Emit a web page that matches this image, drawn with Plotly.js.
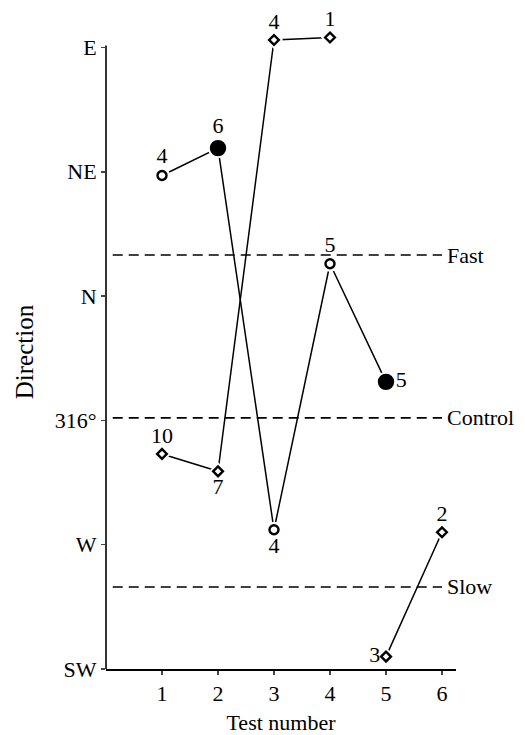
<!DOCTYPE html>
<html>
<head>
<meta charset="utf-8">
<script src="https://cdn.plot.ly/plotly-3.0.1.min.js"></script>
<style>html,body{margin:0;padding:0;background:#fff;}#chart{width:525px;height:735px;}</style>
</head>
<body>
<div id="chart"></div>
<script>
// Y axis: direction categories (index positions 0..5)
var directionTicks = [0, 1, 2, 3, 4, 5];
var directionLabels = ['SW', 'W', '316°', 'N', 'NE', 'E'];
var testTicks = [1, 2, 3, 4, 5, 6];

// Circle series
var circleX = [1, 2, 3, 4, 5];
var circleY = [3.97, 4.19, 1.12, 3.26, 2.31];
var circleLabels = ['4', '6', '4', '5', '5'];
var circleFilled = [false, true, false, false, true];
var circleLabelPos = ['top center', 'top center', 'bottom center', 'top center', 'middle right'];

// Diamond series (two separate runs)
var diamondAX = [1, 2, 3, 4];
var diamondAY = [1.73, 1.59, 5.06, 5.08];
var diamondALabels = ['10', '7', '4', '1'];
var diamondALabelPos = ['top center', 'bottom center', 'top center', 'top center'];
var diamondBX = [5, 6];
var diamondBY = [0.10, 1.10];
var diamondBLabels = ['3', '2'];
var diamondBLabelPos = ['middle left', 'top center'];

// Reference levels
var levelNames = ['Fast', 'Control', 'Slow'];
var levelValues = [3.33, 2.02, 0.66];
var levelStart = 0.12;
var levelEnd = 6.0;

var FONT = 'Liberation Serif, Times New Roman, serif';
var Y_AXIS_TOP = 5.015;   // visible end of the drawn y axis line
var traces = [];

function lineTrace(x, y) {
  return {x: x, y: y, mode: 'lines', type: 'scatter', hoverinfo: 'skip', cliponaxis: false,
    line: {color: '#000', width: 1.5}, showlegend: false};
}
traces.push(lineTrace(circleX, circleY));
traces.push(lineTrace(diamondAX, diamondAY));
traces.push(lineTrace(diamondBX, diamondBY));

// white halos to create gap between lines and markers
function haloTrace(x, y, sizes, symbol) {
  return {x: x, y: y, mode: 'markers', type: 'scatter', hoverinfo: 'skip', showlegend: false,
    cliponaxis: false,
    marker: {symbol: symbol, size: sizes, opacity: 1, color: '#fff', line: {width: 0}}};
}
traces.push(haloTrace(circleX, circleY, circleFilled.map(function(f){return f ? 20 : 16;}), 'circle'));
traces.push(haloTrace(diamondAX, diamondAY, 14, 'diamond'));
traces.push(haloTrace(diamondBX, diamondBY, 14, 'diamond'));

// reference dashed lines
levelValues.forEach(function(v) {
  traces.push({x: [levelStart, levelEnd], y: [v, v], mode: 'lines', type: 'scatter',
    hoverinfo: 'skip', showlegend: false, cliponaxis: false,
    line: {color: '#000', width: 1.6, dash: '10px,6px'}});
});

// markers with labels
traces.push({x: circleX, y: circleY, mode: 'markers+text', type: 'scatter', showlegend: false,
  text: circleLabels, textposition: circleLabelPos, cliponaxis: false,
  textfont: {family: FONT, size: 22, color: '#000'},
  marker: {symbol: 'circle', opacity: 1, size: circleFilled.map(function(f){return f ? 14 : 9;}),
    color: circleFilled.map(function(f){return f ? '#000' : '#fff';}),
    line: {color: '#000', width: 2.4}}});
traces.push({x: diamondAX, y: diamondAY, mode: 'markers+text', type: 'scatter', showlegend: false,
  text: diamondALabels, textposition: diamondALabelPos, cliponaxis: false,
  textfont: {family: FONT, size: 22, color: '#000'},
  marker: {symbol: 'diamond', opacity: 1, size: 7.5, color: '#fff', line: {color: '#000', width: 2.4}}});
traces.push({x: diamondBX, y: diamondBY, mode: 'markers+text', type: 'scatter', showlegend: false,
  text: diamondBLabels, textposition: diamondBLabelPos, cliponaxis: false,
  textfont: {family: FONT, size: 22, color: '#000'},
  marker: {symbol: 'diamond', opacity: 1, size: 7.5, color: '#fff', line: {color: '#000', width: 2.4}}});

var annotations = levelNames.map(function(n, i) {
  return {x: levelEnd, y: levelValues[i], xref: 'x', yref: 'y', text: n, showarrow: false,
    xanchor: 'left', yanchor: 'middle', xshift: 3,
    font: {family: FONT, size: 22, color: '#000'}};
});

var layout = {
  width: 525, height: 735,
  margin: {l: 106, r: 69, t: 35, b: 66},
  paper_bgcolor: '#fff', plot_bgcolor: '#fff',
  font: {family: FONT, size: 22, color: '#000'},
  showlegend: false,
  annotations: annotations,
  shapes: [{type: 'line', xref: 'paper', yref: 'y', x0: 0, x1: 0, y0: 0, y1: Y_AXIS_TOP,
    line: {color: '#000', width: 1.6}, layer: 'above'}],
  xaxis: {range: [0, 6.25], tickvals: testTicks, ticks: 'outside', ticklen: 4, tickwidth: 1.5,
    showline: true, linewidth: 1.6, linecolor: '#000', showgrid: false, zeroline: false,
    tickfont: {family: FONT, size: 22}, automargin: false,
    title: {text: 'Test number', font: {family: FONT, size: 22}, standoff: 15}},
  yaxis: {range: [0, 5.1], tickvals: directionTicks, ticktext: directionLabels,
    ticks: 'outside', ticklen: 4, tickwidth: 1.5,
    showline: false, showgrid: false, zeroline: false,
    tickfont: {family: FONT, size: 22}, automargin: false,
    title: {text: 'Direction', font: {family: FONT, size: 25}, standoff: 14}}
};

Plotly.newPlot('chart', traces, layout, {staticPlot: true, displayModeBar: false});
</script>
</body>
</html>
